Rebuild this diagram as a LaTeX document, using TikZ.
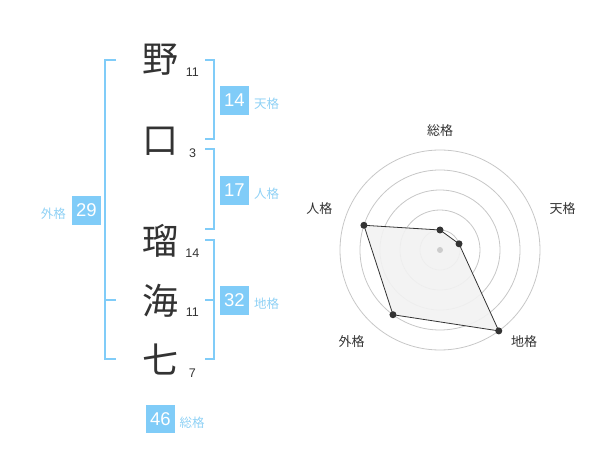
\documentclass[tikz,border=0pt]{standalone}
\usepackage{fontspec}
\setmainfont{Liberation Sans}
\newfontfamily\jpfont{Noto Sans CJK JP}
\usetikzlibrary{calc,positioning}
\definecolor{kaku}{HTML}{80CCF8}
\definecolor{kakutext}{HTML}{8FD1F5}
\definecolor{ink}{HTML}{333333}
\tikzset{
	kanji/.style={text=ink, inner sep=0, font=\jpfont\fontsize{36}{36}\selectfont},
	strokes/.style={text=ink, inner sep=0, font=\fontsize{12.5}{12.5}\selectfont},
	score/.style={fill=kaku, text=white, minimum size=28.5pt, inner sep=0,
		font=\fontsize{18.5}{18.5}\selectfont},
	kakuname/.style={text=kakutext, inner sep=0, font=\jpfont\fontsize{12.5}{12.5}\selectfont},
	bracket/.style={draw=kaku, line width=2pt},
	ring/.style={draw=black!22, line width=0.8pt},
	axisname/.style={text=ink, inner sep=0, font=\jpfont\fontsize{13}{13}\selectfont},
	dot/.style={circle, fill=ink, inner sep=0, minimum size=7pt},
}

\begin{document}
\begin{tikzpicture}[x=1pt,y=-1pt]
\useasboundingbox (0,0) rectangle (600,470);
% the name
\node[kanji] (k1) at (160,60) {野};
\node[kanji] (k2) at (160,141.5) {口};
\node[kanji] (k3) at (160,241) {瑠};
\node[kanji] (k4) at (160,300.5) {海};
\node[kanji] (k5) at (160,359) {七};
\node[strokes] (s1) at (192.3,72.7) {11};
\node[strokes] (s2) at (192.7,153.3) {3};
\node[strokes] (s3) at (192.3,253.3) {14};
\node[strokes] (s4) at (192.3,312.7) {11};
\node[strokes] (s5) at (192.3,373.3) {7};

% the brackets
\draw[bracket] (116,60) -- (104.7,60) -- (104.7,359.3) -- (116,359.3);
\draw[bracket] (104.7,300) -- (116,300);
\draw[bracket] (205,60) -- (214.3,60) -- (214.3,139.3) -- (205,139.3);
\draw[bracket] (205,149.3) -- (214.3,149.3) -- (214.3,229.3) -- (205,229.3);
\draw[bracket] (205,240) -- (214.3,240) -- (214.3,359.3) -- (205,359.3);
\draw[bracket] (205,300) -- (214.3,300);

% the scores
\node[score] (ten) at (234.3,100.3) {14};
\node[kakuname, anchor=west] at (254,104) {天格};
\node[score] (jin) at (234.3,190.3) {17};
\node[kakuname, anchor=west] at (254,193.3) {人格};
\node[score] (chi) at (234.3,300.3) {32};
\node[kakuname, anchor=west] at (254,304) {地格};
\node[score] (gai) at (86.3,210.3) {29};
\node[kakuname, anchor=east] at (66,213.3) {外格};
\node[score] (sou) at (160.3,419.2) {46};
\node[kakuname, anchor=west] at (179.3,422.3) {総格};

% the radar
\coordinate (c) at (440,250);
\foreach \r in {20,40,...,100}
	\draw[ring] (c) circle[radius=\r pt];
\coordinate (psou) at ($(c)+(90:20pt)$);
\coordinate (pten) at ($(c)+(18:20pt)$);
\coordinate (pchi) at ($(c)+(-54:100pt)$);
\coordinate (pgai) at ($(c)+(234:80pt)$);
\coordinate (pjin) at ($(c)+(162:80pt)$);
\draw[ink, fill=black!5, fill opacity=0.9, line width=0.8pt]
	(psou) -- (pten) -- (pchi) -- (pgai) -- (pjin) -- cycle;
\fill[black!20] (c) circle[radius=3pt];
\foreach \p in {psou,pten,pchi,pgai,pjin}
	\node[dot] at (\p) {};
\node[axisname] at (440,130.7) {総格};
\node[axisname] at (562.7,208.3) {天格};
\node[axisname] at (524,341.7) {地格};
\node[axisname] at (351.7,341.7) {外格};
\node[axisname] at (319.3,208.3) {人格};

\end{tikzpicture}
\end{document}
